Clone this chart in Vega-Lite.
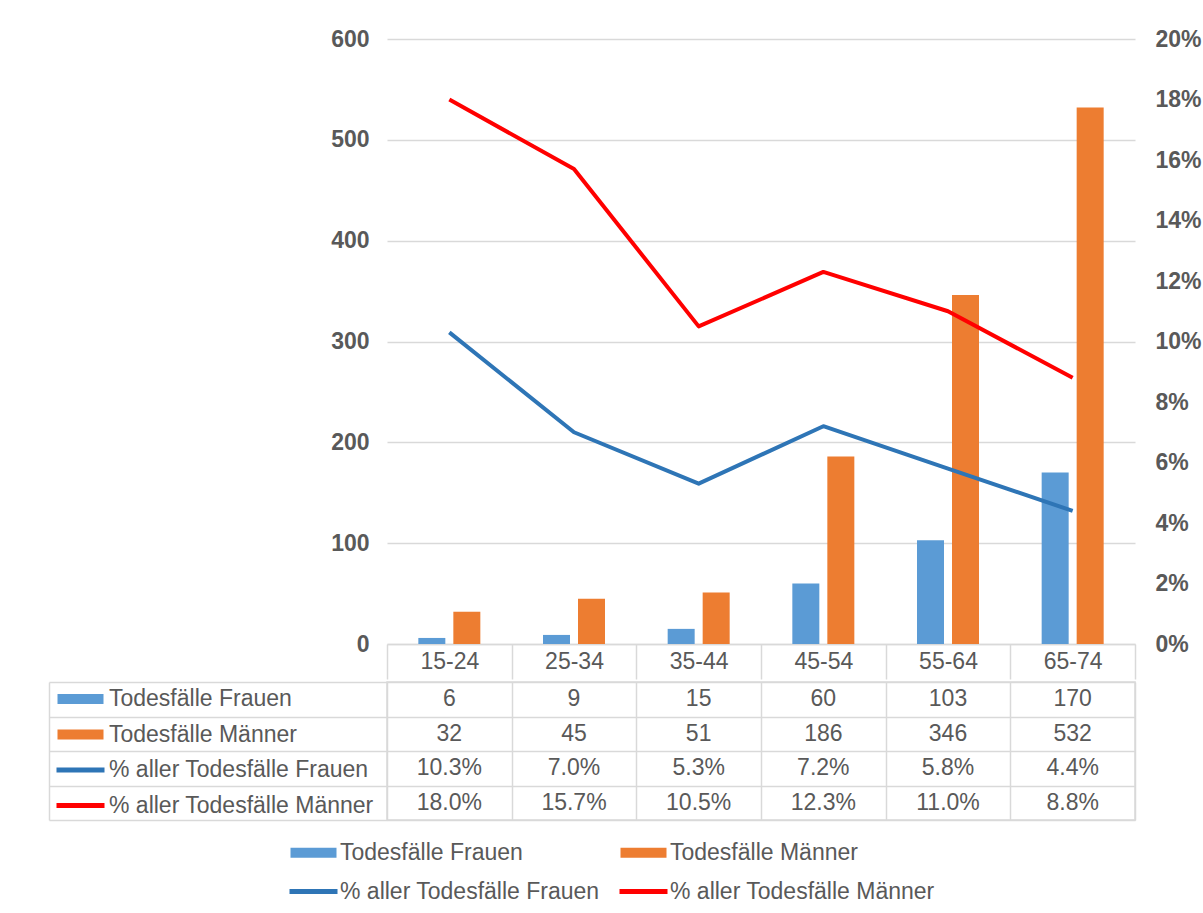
{
  "$schema": "https://vega.github.io/schema/vega-lite/v6.json",
  "padding": {"left": 47, "top": 28, "right": 0, "bottom": 0},
  "background": "white",
  "config": {"font": "Liberation Sans", "text": {"font": "Liberation Sans"}},
  "data": {"values": [
    {"age": "15-24", "series": "Todesfälle Frauen", "value": 6},
    {"age": "25-34", "series": "Todesfälle Frauen", "value": 9},
    {"age": "35-44", "series": "Todesfälle Frauen", "value": 15},
    {"age": "45-54", "series": "Todesfälle Frauen", "value": 60},
    {"age": "55-64", "series": "Todesfälle Frauen", "value": 103},
    {"age": "65-74", "series": "Todesfälle Frauen", "value": 170},
    {"age": "15-24", "series": "Todesfälle Männer", "value": 32},
    {"age": "25-34", "series": "Todesfälle Männer", "value": 45},
    {"age": "35-44", "series": "Todesfälle Männer", "value": 51},
    {"age": "45-54", "series": "Todesfälle Männer", "value": 186},
    {"age": "55-64", "series": "Todesfälle Männer", "value": 346},
    {"age": "65-74", "series": "Todesfälle Männer", "value": 532},
    {"age": "15-24", "series": "% aller Todesfälle Frauen", "value": 0.103},
    {"age": "25-34", "series": "% aller Todesfälle Frauen", "value": 0.070},
    {"age": "35-44", "series": "% aller Todesfälle Frauen", "value": 0.053},
    {"age": "45-54", "series": "% aller Todesfälle Frauen", "value": 0.072},
    {"age": "55-64", "series": "% aller Todesfälle Frauen", "value": 0.058},
    {"age": "65-74", "series": "% aller Todesfälle Frauen", "value": 0.044},
    {"age": "15-24", "series": "% aller Todesfälle Männer", "value": 0.180},
    {"age": "25-34", "series": "% aller Todesfälle Männer", "value": 0.157},
    {"age": "35-44", "series": "% aller Todesfälle Männer", "value": 0.105},
    {"age": "45-54", "series": "% aller Todesfälle Männer", "value": 0.123},
    {"age": "55-64", "series": "% aller Todesfälle Männer", "value": 0.110},
    {"age": "65-74", "series": "% aller Todesfälle Männer", "value": 0.088}
  ]},
  "spacing": 0,
  "vconcat": [
    {
      "width": 748,
      "height": 605,
      "view": {"stroke": null},
      "encoding": {
        "x": {
          "field": "age", "type": "nominal", "sort": null,
          "scale": {"paddingInner": 0, "paddingOuter": 0},
          "axis": {
            "title": null, "orient": "bottom", "labelAngle": 0,
            "domain": true, "domainColor": "#d9d9d9", "domainWidth": 1.5,
            "ticks": true, "tickBand": "extent", "tickSize": 35, "tickColor": "#d9d9d9", "tickWidth": 1.5,
            "labelFontSize": 23, "labelColor": "#595959", "labelPadding": -18, "labelBaseline": "middle",
            "grid": false
          }
        }
      },
      "layer": [
        {
          "transform": [{"filter": {"field": "series", "oneOf": ["Todesfälle Frauen", "Todesfälle Männer"]}}],
          "mark": {"type": "bar"},
          "encoding": {
            "xOffset": {"field": "series", "type": "nominal",
              "scale": {"domain": ["Todesfälle Frauen", "Todesfälle Männer"], "paddingInner": 0.2286, "paddingOuter": 0.895}},
            "y": {"field": "value", "type": "quantitative",
              "scale": {"domain": [0, 600], "nice": false},
              "axis": {"title": null, "orient": "left", "values": [0, 100, 200, 300, 400, 500, 600],
                "domain": false, "ticks": false, "grid": true, "gridColor": "#d9d9d9", "gridWidth": 1.5,
                "labelFontSize": 23, "labelFontWeight": "bold", "labelColor": "#595959", "labelPadding": 18}},
            "color": {"field": "series", "type": "nominal",
              "scale": {"domain": ["Todesfälle Frauen", "Todesfälle Männer", "% aller Todesfälle Frauen", "% aller Todesfälle Männer"],
                        "range": ["#5b9bd5", "#ed7d31", "#2e75b6", "#ff0000"]},
              "legend": null}
          }
        },
        {
          "transform": [{"filter": {"field": "series", "oneOf": ["% aller Todesfälle Frauen", "% aller Todesfälle Männer"]}}],
          "mark": {"type": "line", "strokeWidth": 4, "strokeJoin": "round"},
          "encoding": {
            "y": {"field": "value", "type": "quantitative",
              "scale": {"domain": [0, 0.2], "nice": false},
              "axis": {"title": null, "orient": "right", "values": [0, 0.02, 0.04, 0.06, 0.08, 0.1, 0.12, 0.14, 0.16, 0.18, 0.2],
                "format": ".0%", "domain": false, "ticks": false, "grid": false,
                "labelFontSize": 23, "labelFontWeight": "bold", "labelColor": "#595959", "labelPadding": 20}},
            "color": {"field": "series", "type": "nominal",
              "scale": {"domain": ["Todesfälle Frauen", "Todesfälle Männer", "% aller Todesfälle Frauen", "% aller Todesfälle Männer"],
                        "range": ["#5b9bd5", "#ed7d31", "#2e75b6", "#ff0000"]},
              "legend": null}
          }
        }
      ],
      "resolve": {"scale": {"y": "independent"}}
    },
    {
      "width": 748,
      "height": 138,
      "view": {"stroke": "#d9d9d9", "strokeWidth": 1.5},
      "encoding": {
        "x": {
          "field": "age", "type": "nominal", "sort": null,
          "scale": {"paddingInner": 0, "paddingOuter": 0},
          "axis": {"title": null, "orient": "bottom", "labels": false, "ticks": false, "domain": false,
            "grid": true, "gridColor": "#d9d9d9", "gridWidth": 1.5, "tickBand": "extent"}
        }
      },
      "layer": [
        {
          "transform": [{"filter": {"field": "series", "oneOf": ["Todesfälle Frauen", "Todesfälle Männer"]}}],
          "mark": {"type": "text", "fontSize": 23, "color": "#595959", "font": "Liberation Sans"},
          "encoding": {
            "y": {"field": "series", "type": "nominal",
              "scale": {"domain": ["Todesfälle Frauen", "Todesfälle Männer", "% aller Todesfälle Frauen", "% aller Todesfälle Männer"], "paddingInner": 0, "paddingOuter": 0},
              "axis": {"title": null, "orient": "left", "domain": false, "labels": false,
                "ticks": true, "tickSize": 338, "tickBand": "extent", "tickColor": "#d9d9d9", "tickWidth": 1.5,
                "grid": true, "gridColor": "#d9d9d9", "gridWidth": 1.5}},
            "text": {"field": "value", "type": "quantitative", "format": "d"}
          }
        },
        {
          "transform": [{"filter": {"field": "series", "oneOf": ["% aller Todesfälle Frauen", "% aller Todesfälle Männer"]}}],
          "mark": {"type": "text", "fontSize": 23, "color": "#595959", "font": "Liberation Sans"},
          "encoding": {
            "y": {"field": "series", "type": "nominal",
              "scale": {"domain": ["Todesfälle Frauen", "Todesfälle Männer", "% aller Todesfälle Frauen", "% aller Todesfälle Männer"], "paddingInner": 0, "paddingOuter": 0},
              "axis": {"title": null, "orient": "left", "offset": 338, "domain": true, "domainColor": "#d9d9d9", "domainWidth": 1.5,
                "labels": false, "ticks": false, "grid": false}},
            "text": {"field": "value", "type": "quantitative", "format": ".1%"}
          }
        },
        {
          "transform": [{"filter": "false"}],
          "mark": {"type": "point", "filled": true},
          "encoding": {
            "color": {"field": "series", "type": "nominal",
              "scale": {"domain": ["Todesfälle Frauen", "Todesfälle Männer", "% aller Todesfälle Frauen", "% aller Todesfälle Männer"],
                        "range": ["#5b9bd5", "#ed7d31", "#2e75b6", "#ff0000"]},
              "legend": {"orient": "none", "legendX": -318, "legendY": 5.5, "direction": "vertical", "columns": 1, "title": null,
                "padding": 0, "symbolSize": 400, "symbolStrokeWidth": 0, "symbolOpacity": 1,
                "labelFontSize": 23, "labelColor": "#595959", "labelFont": "Liberation Sans", "labelOffset": 17, "labelLimit": 500, "rowPadding": 11.5}},
            "shape": {"field": "series", "type": "nominal",
              "scale": {"domain": ["Todesfälle Frauen", "Todesfälle Männer", "% aller Todesfälle Frauen", "% aller Todesfälle Männer"],
                        "range": ["M-2.3,-0.5H2.3V0.5H-2.3Z", "M-2.3,-0.5H2.3V0.5H-2.3Z", "M-2.4,-0.25H2.4V0.25H-2.4Z", "M-2.4,-0.25H2.4V0.25H-2.4Z"]},
              "legend": {"orient": "none", "legendX": -318, "legendY": 5.5, "direction": "vertical", "columns": 1, "title": null,
                "padding": 0, "symbolSize": 400, "symbolStrokeWidth": 0, "symbolOpacity": 1,
                "labelFontSize": 23, "labelColor": "#595959", "labelFont": "Liberation Sans", "labelOffset": 17, "labelLimit": 500, "rowPadding": 11.5}}
          }
        },
        {
          "transform": [{"filter": "false"}],
          "mark": {"type": "point", "filled": true},
          "encoding": {
            "color": {"field": "series", "type": "nominal",
              "scale": {"domain": ["Todesfälle Frauen", "Todesfälle Männer", "% aller Todesfälle Frauen", "% aller Todesfälle Männer"],
                        "range": ["#5b9bd5", "#ed7d31", "#2e75b6", "#ff0000"]},
              "legend": {"orient": "none", "legendX": -85, "legendY": 159, "direction": "horizontal", "columns": 2, "title": null,
                "padding": 0, "symbolSize": 400, "symbolStrokeWidth": 0, "symbolOpacity": 1,
                "labelFontSize": 23, "labelColor": "#595959", "labelFont": "Liberation Sans", "labelOffset": 15, "labelLimit": 500,
                "rowPadding": 15, "columnPadding": 19}},
            "shape": {"field": "series", "type": "nominal",
              "scale": {"domain": ["Todesfälle Frauen", "Todesfälle Männer", "% aller Todesfälle Frauen", "% aller Todesfälle Männer"],
                        "range": ["M-2.3,-0.5H2.3V0.5H-2.3Z", "M-2.3,-0.5H2.3V0.5H-2.3Z", "M-2.4,-0.25H2.4V0.25H-2.4Z", "M-2.4,-0.25H2.4V0.25H-2.4Z"]},
              "legend": {"orient": "none", "legendX": -85, "legendY": 159, "direction": "horizontal", "columns": 2, "title": null,
                "padding": 0, "symbolSize": 400, "symbolStrokeWidth": 0, "symbolOpacity": 1,
                "labelFontSize": 23, "labelColor": "#595959", "labelFont": "Liberation Sans", "labelOffset": 15, "labelLimit": 500,
                "rowPadding": 15, "columnPadding": 19}}
          }
        }
      ],
      "resolve": {"scale": {"y": "independent", "color": "independent", "shape": "independent"}}
    }
  ],
  "resolve": {"scale": {"x": "independent", "y": "independent", "color": "independent", "shape": "independent"}}
}
